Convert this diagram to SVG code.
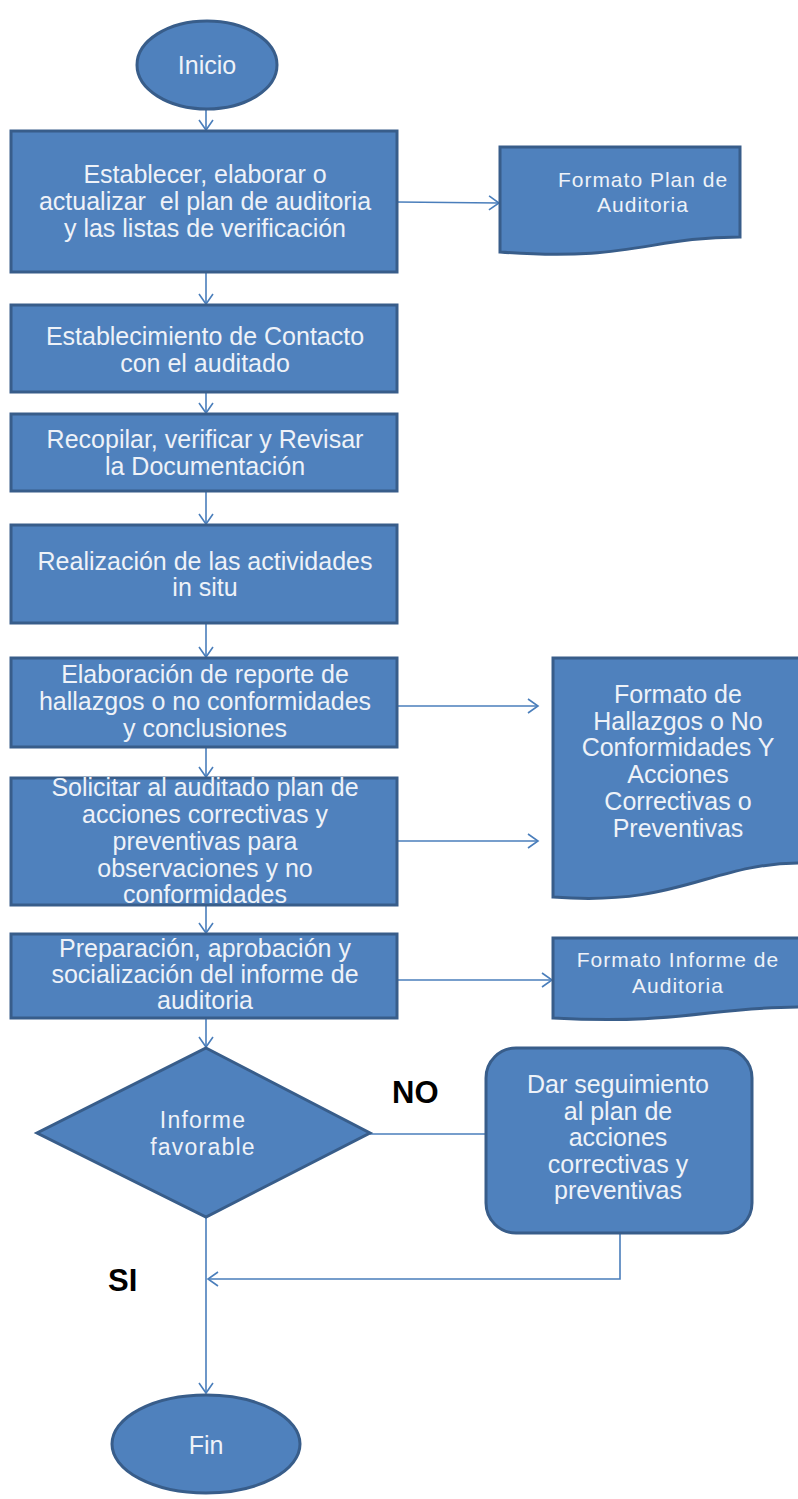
<svg xmlns="http://www.w3.org/2000/svg" width="798" height="1499" viewBox="0 0 798 1499">
  <defs>
    <style>
      .shape { fill: #4f81bd; stroke: #385d8a; stroke-width: 3; }
      .lbl { font-family: "Liberation Sans", Arial, sans-serif; fill: #eef2f8; text-anchor: middle; }
      .box { font-size: 25px; }
      .doc { font-size: 21px; letter-spacing: 1px; }
      .tag { font-family: "Liberation Sans", Arial, sans-serif; font-weight: bold; font-size: 31px; fill: #000; }
      .conn { fill: none; stroke: #4a7ebb; stroke-width: 1.6; }
    </style>
    <marker id="arrow" markerUnits="userSpaceOnUse" markerWidth="14" markerHeight="16" refX="11" refY="8" orient="auto">
      <path d="M1,1 L11,8 L1,15" fill="none" stroke="#4a7ebb" stroke-width="1.6"/>
    </marker>
  </defs>

  <rect width="798" height="1499" fill="#ffffff"/>

  <!-- connectors -->
  <g id="connectors" class="conn">
    <line x1="206" y1="108" x2="206" y2="130" marker-end="url(#arrow)"/>
    <line x1="206" y1="272" x2="206" y2="304" marker-end="url(#arrow)"/>
    <line x1="206" y1="392" x2="206" y2="413" marker-end="url(#arrow)"/>
    <line x1="206" y1="491" x2="206" y2="524" marker-end="url(#arrow)"/>
    <line x1="206" y1="623" x2="206" y2="657" marker-end="url(#arrow)"/>
    <line x1="206" y1="747" x2="206" y2="777" marker-end="url(#arrow)"/>
    <line x1="206" y1="905" x2="206" y2="933" marker-end="url(#arrow)"/>
    <line x1="206" y1="1018" x2="206" y2="1047" marker-end="url(#arrow)"/>
    <line x1="206" y1="1217" x2="206" y2="1393" marker-end="url(#arrow)"/>
    <line x1="397" y1="202" x2="499" y2="203" marker-end="url(#arrow)"/>
    <line x1="397" y1="706" x2="538" y2="706" marker-end="url(#arrow)"/>
    <line x1="397" y1="841" x2="538" y2="841" marker-end="url(#arrow)"/>
    <line x1="397" y1="980" x2="552" y2="980" marker-end="url(#arrow)"/>
    <line x1="370" y1="1134" x2="486" y2="1134"/>
    <polyline points="620,1233 620,1279 208,1279" marker-end="url(#arrow)"/>
  </g>

  <g id="inicio">
    <ellipse class="shape" cx="207" cy="65" rx="70" ry="44"/>
    <text class="lbl box" x="207" y="74">Inicio</text>
  </g>

  <g id="plan-auditoria">
    <rect class="shape" x="11" y="131" width="386" height="141"/>
    <text class="lbl box" x="205" y="183">Establecer, elaborar o</text>
    <text class="lbl box" x="205" y="210" xml:space="preserve">actualizar  el plan de auditoria</text>
    <text class="lbl box" x="205" y="237">y las listas de verificación</text>
  </g>

  <g id="formato-plan">
    <path class="shape" d="M500,147 H740 V237 C650,237 630,262 500,252 Z"/>
    <text class="lbl doc" x="643" y="187" letter-spacing="1.5">Formato Plan de</text>
    <text class="lbl doc" x="643" y="212" letter-spacing="1.5">Auditoria</text>
  </g>

  <g id="contacto">
    <rect class="shape" x="11" y="305" width="386" height="87"/>
    <text class="lbl box" x="205" y="345">Establecimiento de Contacto</text>
    <text class="lbl box" x="205" y="372">con el auditado</text>
  </g>

  <g id="documentacion">
    <rect class="shape" x="11" y="414" width="386" height="77"/>
    <text class="lbl box" x="205" y="448">Recopilar, verificar y Revisar</text>
    <text class="lbl box" x="205" y="475">la Documentación</text>
  </g>

  <g id="actividades">
    <rect class="shape" x="11" y="525" width="386" height="98"/>
    <text class="lbl box" x="205" y="570">Realización de las actividades</text>
    <text class="lbl box" x="205" y="596">in situ</text>
  </g>

  <g id="reporte">
    <rect class="shape" x="11" y="658" width="386" height="89"/>
    <text class="lbl box" x="205" y="683">Elaboración de reporte de</text>
    <text class="lbl box" x="205" y="710">hallazgos o no conformidades</text>
    <text class="lbl box" x="205" y="737">y conclusiones</text>
  </g>

  <g id="formato-hallazgos">
    <path class="shape" d="M553,658 H801 V863 C710,863 680,907 553,897 Z"/>
    <text class="lbl box" x="678" y="703" font-size="24">Formato de</text>
    <text class="lbl box" x="678" y="730" font-size="24">Hallazgos o No</text>
    <text class="lbl box" x="678" y="756" font-size="24">Conformidades Y</text>
    <text class="lbl box" x="678" y="783" font-size="24">Acciones</text>
    <text class="lbl box" x="678" y="810" font-size="24">Correctivas o</text>
    <text class="lbl box" x="678" y="837" font-size="24">Preventivas</text>
  </g>

  <g id="acciones">
    <rect class="shape" x="11" y="778" width="386" height="127"/>
    <text class="lbl box" x="205" y="796">Solicitar al auditado plan de</text>
    <text class="lbl box" x="205" y="823">acciones correctivas y</text>
    <text class="lbl box" x="205" y="850">preventivas para</text>
    <text class="lbl box" x="205" y="877">observaciones y no</text>
    <text class="lbl box" x="205" y="903">conformidades</text>
  </g>

  <g id="informe">
    <rect class="shape" x="11" y="934" width="386" height="84"/>
    <text class="lbl box" x="205" y="957">Preparación, aprobación y</text>
    <text class="lbl box" x="205" y="983">socialización del informe de</text>
    <text class="lbl box" x="205" y="1009">auditoria</text>
  </g>

  <g id="formato-informe">
    <path class="shape" d="M553,938 H801 V1007 C710,1007 680,1025 553,1018 Z"/>
    <text class="lbl doc" x="678" y="967">Formato Informe de</text>
    <text class="lbl doc" x="678" y="993">Auditoria</text>
  </g>

  <g id="decision">
    <polygon class="shape" points="206,1048 370,1133 206,1217 37,1133"/>
    <text class="lbl" x="203" y="1128" font-size="23" letter-spacing="1.2">Informe</text>
    <text class="lbl" x="203" y="1155" font-size="23" letter-spacing="1.2">favorable</text>
  </g>

  <g id="seguimiento">
    <rect class="shape" x="486" y="1048" width="266" height="185" rx="30" ry="30"/>
    <text class="lbl box" x="618" y="1093">Dar seguimiento</text>
    <text class="lbl box" x="618" y="1120">al plan de</text>
    <text class="lbl box" x="618" y="1146">acciones</text>
    <text class="lbl box" x="618" y="1173">correctivas y</text>
    <text class="lbl box" x="618" y="1199">preventivas</text>
  </g>

  <g id="etiquetas">
    <text class="tag" x="392" y="1103">NO</text>
    <text class="tag" x="108" y="1291">SI</text>
  </g>

  <g id="fin">
    <ellipse class="shape" cx="206" cy="1444" rx="94" ry="49"/>
    <text class="lbl box" x="206" y="1454" font-size="28">Fin</text>
  </g>
</svg>
